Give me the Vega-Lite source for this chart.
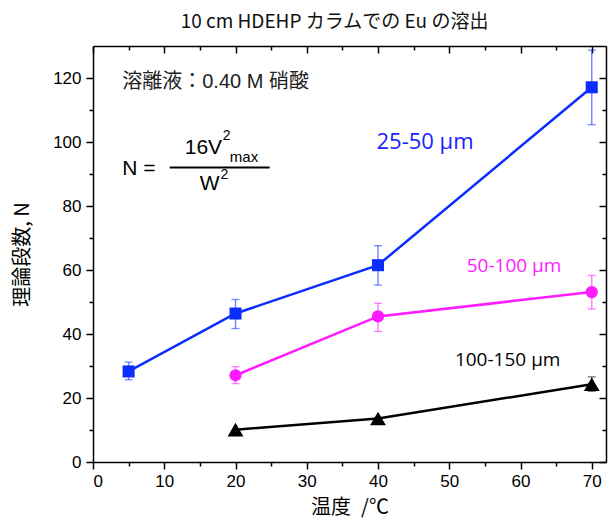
{
  "$schema": "https://vega.github.io/schema/vega-lite/v6.json",
  "width": 513,
  "height": 416,
  "autosize": "none",
  "padding": {"left": 93, "top": 46, "right": 5, "bottom": 60},
  "background": "white",
  "config": {
    "view": {"stroke": null},
    "axis": {
      "grid": false,
      "domainColor": "black",
      "domainWidth": 1.5,
      "tickColor": "black",
      "tickWidth": 1.5,
      "labelFont": "Liberation Sans",
      "labelFontSize": 17,
      "labelColor": "black",
      "titleFont": "Noto Sans CJK JP",
      "titleFontSize": 20,
      "titleFontWeight": "normal",
      "titleColor": "black"
    }
  },
  "title": {
    "text": "10 cm HDEHP カラムでの Eu の溶出",
    "font": "Noto Sans CJK JP",
    "fontSize": 19,
    "fontWeight": "normal",
    "color": "#111111",
    "anchor": "middle",
    "frame": "group",
    "dx": -15,
    "offset": 13
  },
  "datasets": {
    "pts": [
      {"series": "25-50 μm", "temp": 5, "N": 28.3, "lo": 25.7, "hi": 31.2},
      {"series": "25-50 μm", "temp": 20, "N": 46.4, "lo": 41.7, "hi": 50.8},
      {"series": "25-50 μm", "temp": 40, "N": 61.5, "lo": 55.3, "hi": 67.6},
      {"series": "25-50 μm", "temp": 70, "N": 117.1, "lo": 105.4, "hi": 128.7},
      {"series": "50-100 μm", "temp": 20, "N": 27.1, "lo": 24.5, "hi": 29.8},
      {"series": "50-100 μm", "temp": 40, "N": 45.5, "lo": 40.8, "hi": 49.6},
      {"series": "50-100 μm", "temp": 70, "N": 53.1, "lo": 47.8, "hi": 58.3},
      {"series": "100-150 μm", "temp": 20, "N": 10.1, "lo": null, "hi": null},
      {"series": "100-150 μm", "temp": 40, "N": 13.6, "lo": null, "hi": null},
      {"series": "100-150 μm", "temp": 70, "N": 24.3, "lo": 22.1, "hi": 26.6}
    ]
  },
  "resolve": {"axis": {"x": "independent", "y": "independent"}},
  "layer": [
    {
      "data": {"name": "pts"},
      "transform": [{"filter": "datum.lo != null"}],
      "mark": {"type": "rule", "strokeWidth": 1.5, "opacity": 0.55},
      "encoding": {
        "x": {
          "field": "temp", "type": "quantitative",
          "scale": {"domain": [0, 72], "nice": false, "zero": false},
          "axis": {
            "orient": "bottom",
            "values": [0, 10, 20, 30, 40, 50, 60, 70],
            "tickSize": 7,
            "labelPadding": 4,
            "title": "温度\u2002/℃",
            "titlePadding": 8
          }
        },
        "y": {
          "field": "lo", "type": "quantitative",
          "scale": {"domain": [0, 130], "nice": false, "zero": false},
          "axis": {
            "orient": "left",
            "values": [0, 20, 40, 60, 80, 100, 120],
            "tickSize": 7,
            "labelPadding": 5,
            "title": "理論段数, N",
            "titlePadding": 20
          }
        },
        "y2": {"field": "hi"},
        "color": {
          "field": "series", "type": "nominal", "legend": null,
          "scale": {"domain": ["25-50 μm", "50-100 μm", "100-150 μm"], "range": ["#0b2dff", "#ff1aff", "#000000"]}
        }
      }
    },
    {
      "data": {"name": "pts"},
      "transform": [{"filter": "datum.lo != null"}],
      "mark": {"type": "tick", "orient": "horizontal", "size": 8, "thickness": 1.3, "opacity": 0.55},
      "encoding": {
        "x": {
          "field": "temp", "type": "quantitative",
          "axis": {"orient": "bottom", "values": [5, 15, 25, 35, 45, 55, 65], "tickSize": 4, "labels": false, "domain": false, "title": null}
        },
        "y": {
          "field": "lo", "type": "quantitative",
          "axis": {"orient": "left", "values": [10, 30, 50, 70, 90, 110], "tickSize": 4, "labels": false, "domain": false, "title": null}
        },
        "color": {"field": "series", "type": "nominal", "legend": null}
      }
    },
    {
      "data": {"name": "pts"},
      "transform": [{"filter": "datum.lo != null"}],
      "mark": {"type": "tick", "orient": "horizontal", "size": 8, "thickness": 1.3, "opacity": 0.55},
      "encoding": {
        "x": {"field": "temp", "type": "quantitative", "axis": null},
        "y": {"field": "hi", "type": "quantitative", "axis": null},
        "color": {"field": "series", "type": "nominal", "legend": null}
      }
    },
    {
      "data": {"name": "pts"},
      "mark": {"type": "line", "strokeWidth": 2.5},
      "encoding": {
        "x": {
          "field": "temp", "type": "quantitative",
          "axis": {"orient": "top", "values": [0, 10, 20, 30, 40, 50, 60, 70], "tickSize": -7, "labels": false, "title": null}
        },
        "y": {
          "field": "N", "type": "quantitative",
          "axis": {"orient": "right", "values": [0, 20, 40, 60, 80, 100, 120], "tickSize": -7, "labels": false, "title": null}
        },
        "color": {"field": "series", "type": "nominal", "legend": null},
        "detail": {"field": "series"}
      }
    },
    {
      "data": {"name": "pts"},
      "mark": {"type": "point", "filled": true, "opacity": 1, "strokeWidth": 0},
      "encoding": {
        "x": {
          "field": "temp", "type": "quantitative",
          "axis": {"orient": "top", "values": [5, 15, 25, 35, 45, 55, 65], "tickSize": -4, "labels": false, "domain": false, "title": null}
        },
        "y": {
          "field": "N", "type": "quantitative",
          "axis": {"orient": "right", "values": [10, 30, 50, 70, 90, 110], "tickSize": -4, "labels": false, "domain": false, "title": null}
        },
        "color": {"field": "series", "type": "nominal", "legend": null},
        "shape": {
          "field": "series", "type": "nominal", "legend": null,
          "scale": {"domain": ["25-50 μm", "50-100 μm", "100-150 μm"], "range": ["square", "circle", "triangle-up"]}
        },
        "size": {
          "field": "series", "type": "nominal", "legend": null,
          "scale": {"type": "ordinal", "domain": ["25-50 μm", "50-100 μm", "100-150 μm"], "range": [145, 150, 250]}
        }
      }
    },
    {
      "data": {"values": [{}]},
      "mark": {"type": "text", "align": "left", "baseline": "middle", "font": "Liberation Sans, Noto Sans CJK JP", "fontSize": 20, "color": "#222222", "text": "溶離液：0.40 M 硝酸"},
      "encoding": {
        "x": {"datum": 4.1, "type": "quantitative", "axis": null},
        "y": {"datum": 118.8, "type": "quantitative", "axis": null}
      }
    },
    {
      "data": {"values": [{}]},
      "mark": {"type": "text", "align": "left", "baseline": "middle", "font": "Liberation Sans", "fontSize": 21, "color": "black", "text": "N ="},
      "encoding": {
        "x": {"datum": 4.1, "type": "quantitative", "axis": null},
        "y": {"datum": 91.7, "type": "quantitative", "axis": null}
      }
    },
    {
      "data": {"values": [{}]},
      "mark": {"type": "rule", "strokeWidth": 2, "color": "black"},
      "encoding": {
        "x": {"datum": 10.77, "type": "quantitative", "axis": null},
        "x2": {"datum": 24.8},
        "y": {"datum": 92.0, "type": "quantitative", "axis": null}
      }
    },
    {
      "data": {"values": [{}]},
      "mark": {"type": "text", "align": "left", "baseline": "middle", "font": "Liberation Sans", "fontSize": 21, "color": "black", "text": "16V"},
      "encoding": {
        "x": {"datum": 12.87, "type": "quantitative", "axis": null},
        "y": {"datum": 98.2, "type": "quantitative", "axis": null}
      }
    },
    {
      "data": {"values": [{}]},
      "mark": {"type": "text", "align": "left", "baseline": "middle", "font": "Liberation Sans", "fontSize": 14, "color": "black", "text": "2"},
      "encoding": {
        "x": {"datum": 18.2, "type": "quantitative", "axis": null},
        "y": {"datum": 101.8, "type": "quantitative", "axis": null}
      }
    },
    {
      "data": {"values": [{}]},
      "mark": {"type": "text", "align": "left", "baseline": "middle", "font": "Liberation Sans", "fontSize": 15, "color": "black", "text": "max"},
      "encoding": {
        "x": {"datum": 19.2, "type": "quantitative", "axis": null},
        "y": {"datum": 95.3, "type": "quantitative", "axis": null}
      }
    },
    {
      "data": {"values": [{}]},
      "mark": {"type": "text", "align": "left", "baseline": "middle", "font": "Liberation Sans", "fontSize": 21, "color": "black", "text": "W"},
      "encoding": {
        "x": {"datum": 14.97, "type": "quantitative", "axis": null},
        "y": {"datum": 86.8, "type": "quantitative", "axis": null}
      }
    },
    {
      "data": {"values": [{}]},
      "mark": {"type": "text", "align": "left", "baseline": "middle", "font": "Liberation Sans", "fontSize": 14, "color": "black", "text": "2"},
      "encoding": {
        "x": {"datum": 17.9, "type": "quantitative", "axis": null},
        "y": {"datum": 89.6, "type": "quantitative", "axis": null}
      }
    },
    {
      "data": {"values": [{}]},
      "mark": {"type": "text", "align": "center", "baseline": "middle", "font": "Open Sans", "fontSize": 22, "color": "#1a22ff", "text": "25-50 μm"},
      "encoding": {
        "x": {"datum": 46.6, "type": "quantitative", "axis": null},
        "y": {"datum": 100.0, "type": "quantitative", "axis": null}
      }
    },
    {
      "data": {"values": [{}]},
      "mark": {"type": "text", "align": "center", "baseline": "middle", "font": "Open Sans", "fontSize": 19, "color": "#ff1aff", "text": "50-100 μm"},
      "encoding": {
        "x": {"datum": 59.1, "type": "quantitative", "axis": null},
        "y": {"datum": 61.3, "type": "quantitative", "axis": null}
      }
    },
    {
      "data": {"values": [{}]},
      "mark": {"type": "text", "align": "center", "baseline": "middle", "font": "Open Sans", "fontSize": 19, "color": "black", "text": "100-150 μm"},
      "encoding": {
        "x": {"datum": 58.2, "type": "quantitative", "axis": null},
        "y": {"datum": 31.8, "type": "quantitative", "axis": null}
      }
    }
  ]
}
